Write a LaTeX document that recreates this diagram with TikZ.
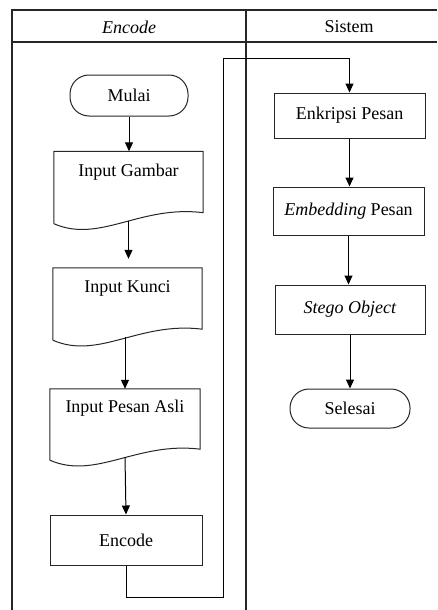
\documentclass[tikz,border=0pt]{standalone}
\usepackage{fontspec}
\setmainfont{Liberation Serif}
\usetikzlibrary{arrows.meta,calc}
\tikzset{
  x=1pt, y=-1pt,
  frame/.style={line width=1.3pt, draw=black!85},
  box/.style={draw=black!85, line width=1pt, inner sep=0pt, font=\fontsize{18}{21}\selectfont},
  term/.style={box, rounded corners=19pt},
  doc/.style={inner sep=0pt, font=\fontsize{18}{21}\selectfont, text height=25pt, text depth=53pt},
  docline/.style={draw=black!85, line width=1pt},
  arr/.style={draw=black, line width=1pt, -{Triangle[length=9pt,width=8pt]}},
  hdr/.style={font=\fontsize{18}{21}\selectfont}
}
\newcommand{\docoutline}[1]{%
  \draw[docline] ([yshift=6pt]#1.south west) -- (#1.north west) -- (#1.north east) -- ([yshift=17pt]#1.south east)
    .. controls ($(#1.south east)+(-63,-25)$) and ($(#1.south west)+(46,14)$) .. ([yshift=6pt]#1.south west);}
\begin{document}
\begin{tikzpicture}
\useasboundingbox (0,0) rectangle (437,610);
% swimlane frame
\draw[frame] (12,610) -- (12,10) -- (437,10);
\draw[frame] (12,42) -- (437,42);
\draw[frame] (246,10) -- (246,610);
\node[hdr] (h1) at (129,27) {\textit{Encode}};
\node[hdr] (h2) at (349,27) {Sistem};
% left lane
\node[term, minimum width=118pt, minimum height=41pt] (mulai) at (129,95.5) {Mulai};
\node[doc, minimum width=149pt] (ig) at (128.5,190.5) {Input Gambar};
\docoutline{ig}
\node[doc, minimum width=149pt, text height=24pt, text depth=54pt] (ik) at (127.5,307) {Input Kunci};
\docoutline{ik}
\node[doc, minimum width=150pt, text height=23pt, text depth=54pt] (ips) at (125,427.5) {Input Pesan Asli};
\docoutline{ips}
\node[box, minimum width=152pt, minimum height=50pt] (enc) at (126,540) {Encode};
% right lane
\node[box, minimum width=151pt, minimum height=45pt] (enk) at (349.5,115.5) {Enkripsi Pesan};
\node[box, minimum width=151pt, minimum height=48pt] (emb) at (348.5,211) {\textit{Embedding} Pesan};
\node[box, minimum width=150pt, minimum height=49pt] (stg) at (350,309.5) {\textit{Stego Object}};
\node[term, minimum width=120pt, minimum height=39pt] (sel) at (350,408.5) {Selesai};
% connectors
\draw[arr] (mulai.south) -- (mulai.south |- ig.north);
\draw[arr] ([yshift=9pt]ig.south) -- ([yshift=9pt]ig.south |- ik.north);
\draw[arr] ([yshift=9pt]ips.north |- ik.south) -- (ips.north);
\draw[arr] ([yshift=9pt]ips.south) -- (enc.north);
\draw[arr] (enc.south) -- ++(0,32) -| (223,59) -| (enk.north);
\draw[arr] (enk.south) -- (enk.south |- emb.north);
\draw[arr] (emb.south) -- (emb.south |- stg.north);
\draw[arr] (stg.south) -- (sel.north);
\end{tikzpicture}
\end{document}
